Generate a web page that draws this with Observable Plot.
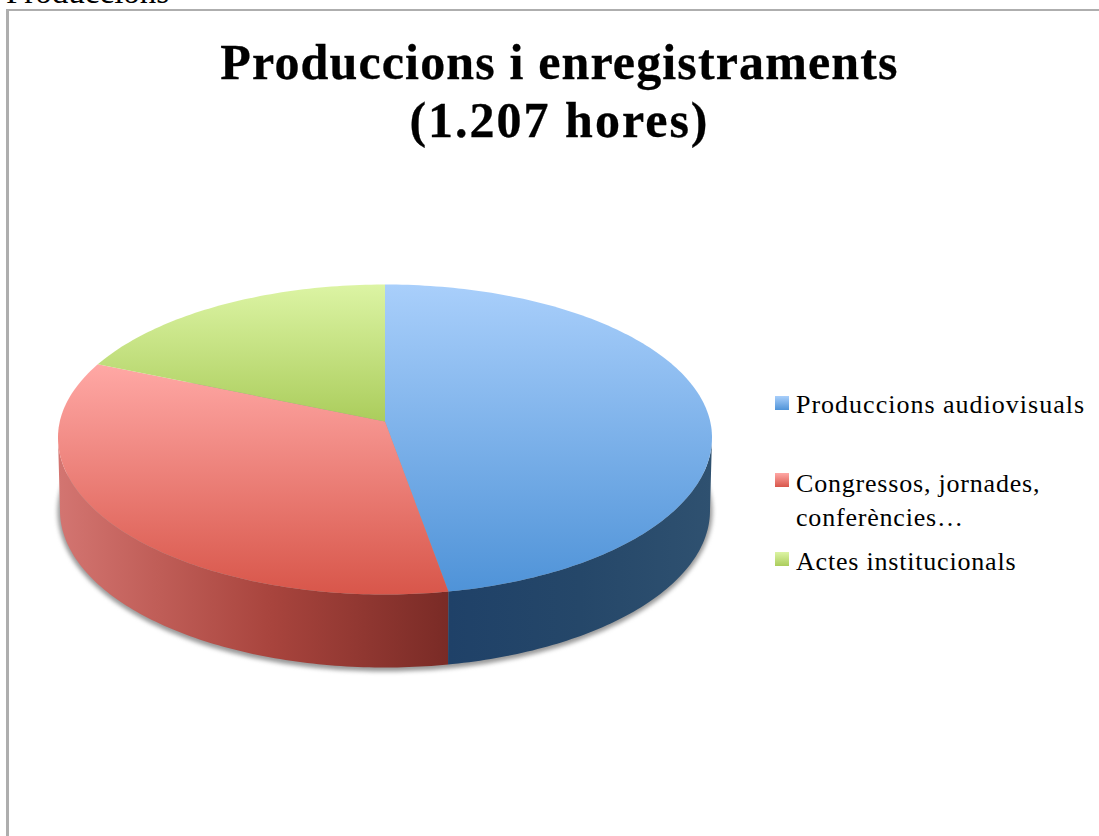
<!DOCTYPE html>
<html><head><meta charset="utf-8">
<script src="https://cdn.jsdelivr.net/npm/d3@7"></script>
<script src="https://cdn.jsdelivr.net/npm/@observablehq/plot@0.6"></script>
<style>
html,body{margin:0;padding:0;background:#fff;overflow:hidden}
#page{position:relative;width:1099px;height:836px;overflow:hidden;font-family:"Liberation Serif",serif;color:#000}
#crop{position:absolute;left:6px;top:-24px;font-size:33px;line-height:33px;white-space:nowrap}
#frame{position:absolute;left:6px;top:9px;right:0;bottom:0;border-top:2px solid #aeaeae;border-left:3px solid #aeaeae}
#title{position:absolute;left:0;width:1119px;top:33px;text-align:center;font-weight:700;font-size:50px;line-height:58px;-webkit-text-stroke:.3px #000}
#title .l1{letter-spacing:1.14px}
#title .l2{letter-spacing:2px}
#chart{position:absolute;left:0;top:0}
.entry{position:absolute;left:775px;display:flex;gap:7px;font-size:26px;line-height:34px;letter-spacing:1px}
.entry i{flex:none;width:14px;height:14px;margin-top:8px}
.entry span{position:relative;width:296px}
.e0{top:388px}.e1{top:465px}.e2{top:544px}
.e1 span{top:2px;letter-spacing:.8px}
.e2 span{top:1px;letter-spacing:.8px}
</style></head><body>
<div id="page">
<div id="crop">Produccions</div>
<div id="frame"></div>
<div id="chart"></div>
<div id="title"><span class="l1">Produccions i enregistraments</span><br><span class="l2">(1.207 hores)</span></div>
<div id="legend"></div>
</div>
<script>
const categories = ["Produccions audiovisuals", "Congressos, jornades, conferències…", "Actes institucionals"];
const hours = [566, 435, 206];
const topColors = [["#a9cffb", "#4f93d8"], ["#ffa8a5", "#d8564a"], ["#dcf4a4", "#abcd5c"]];

const W = 1099, H = 836;
const disc = {cx: 384.5, cy: 437, rx: 327, ryBack: 153, ryFront: 157, apexY: 421};
const base = {cx: 384.5, cy: 510, rx: 325, ry: 157};
const total = d3.sum(hours);
const cum = d3.cumsum(hours);
const angle = i => (i < 0 ? 0 : cum[i] / total * 360);
const rad = d => d * Math.PI / 180;
const topPt = d => {
  const c = Math.cos(rad(d));
  return {x: disc.cx + disc.rx * Math.sin(rad(d)), y: disc.cy - (c > 0 ? disc.ryBack : disc.ryFront) * c};
};
const basePt = d => ({x: base.cx + base.rx * Math.sin(rad(d)), y: base.cy - base.ry * Math.cos(rad(d))});
const arc = (a, b) => d3.range(a, b, 1).concat(b);

const slices = hours.map((_, i) => {
  const a = angle(i - 1), b = angle(i);
  return [{x: disc.cx, y: disc.apexY}, ...arc(a, b).map(topPt)];
});
const wall = (a, b) => [...arc(a, b).map(topPt), ...arc(a, b).reverse().map(basePt)];
const wallBlue = wall(90, angle(0));
const wallRed = wall(angle(0), 270);
const shadow = d3.range(0, 360, 2).map(d => ({
  x: base.cx + (base.rx + 2.5) * Math.sin(rad(d)),
  y: base.cy + 1 - (base.ry + 3) * Math.cos(rad(d))
}));

const poly = (data, fill, extra = {}) => Plot.line(data, {x: "x", y: "y", fill, stroke: "none", curve: "linear", ...extra});

const svg = Plot.plot({
  width: W, height: H, margin: 0,
  x: {domain: [0, W], range: [0, W], axis: null},
  y: {domain: [0, H], range: [0, H], axis: null},
  style: {background: "transparent"},
  marks: [
    poly(shadow, "#999", {imageFilter: "blur(2px)"}),
    poly(wallRed, "url(#wallRed)"),
    poly(wallBlue, "url(#wallBlue)"),
    poly(slices[0], "url(#top0)"),
    poly(slices[1], "url(#top1)"),
    poly(slices[2], "url(#top2)")
  ]
});

const ns = "http://www.w3.org/2000/svg";
const defs = document.createElementNS(ns, "defs");
function grad(id, x1, y1, x2, y2, stops) {
  const g = document.createElementNS(ns, "linearGradient");
  g.setAttribute("id", id);
  g.setAttribute("gradientUnits", "userSpaceOnUse");
  Object.entries({x1, y1, x2, y2}).forEach(([k, v]) => g.setAttribute(k, v));
  stops.forEach(([o, c]) => {
    const s = document.createElementNS(ns, "stop");
    s.setAttribute("offset", o); s.setAttribute("stop-color", c);
    g.appendChild(s);
  });
  defs.appendChild(g);
}
slices.forEach((s, i) => {
  const [y0, y1] = d3.extent(s, d => d.y);
  grad("top" + i, 0, y0, 0, y1, [[0, topColors[i][0]], [1, topColors[i][1]]]);
});
grad("wallRed", 58, 0, 447, 0, [[0, "#d37571"], [0.25, "#c05e58"], [0.55, "#a8443d"], [1, "#7a2b26"]]);
grad("wallBlue", 447, 0, 712, 0, [[0, "#1f4168"], [0.5, "#254769"], [1, "#2f5170"]]);
svg.insertBefore(defs, svg.firstChild);
document.getElementById("chart").appendChild(svg);

const legend = document.getElementById("legend");
categories.forEach((c, i) => {
  const e = document.createElement("div");
  e.className = "entry e" + i;
  const sw = document.createElement("i");
  sw.style.background = `linear-gradient(${topColors[i][0]},${topColors[i][1]})`;
  const t = document.createElement("span");
  t.textContent = c;
  if (i === 1) t.innerHTML = "Congressos, jornades,<br>conferències…";
  e.append(sw, t);
  legend.appendChild(e);
});
</script>
</body></html>
